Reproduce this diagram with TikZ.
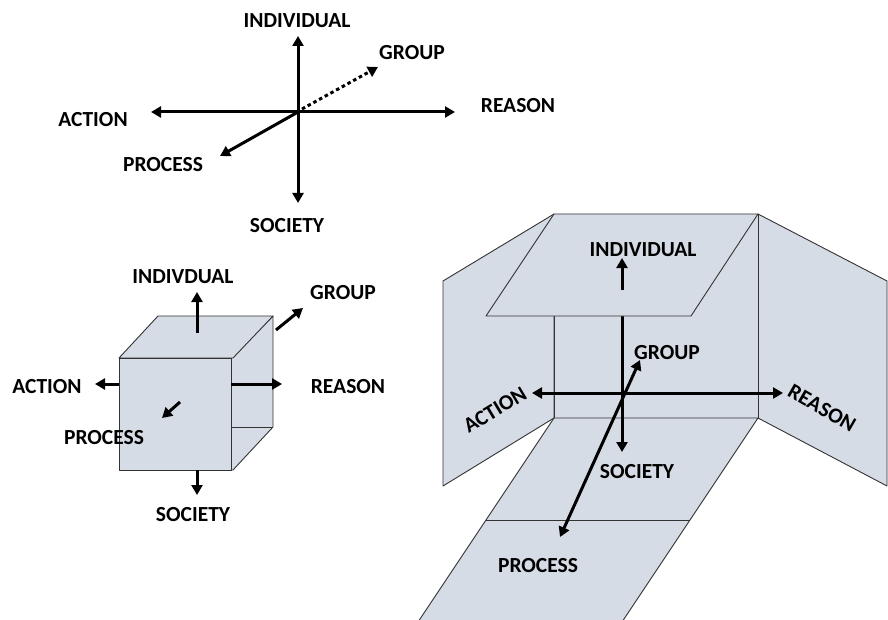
\documentclass[tikz,border=0pt]{standalone}
\usepackage{fontspec}
\setmainfont{Carlito}[BoldFont={Carlito Bold}]
\usetikzlibrary{arrows.meta}
\definecolor{panel}{HTML}{D6DCE5}
\definecolor{edge}{HTML}{333333}
\begin{document}
\begin{tikzpicture}[x=1pt,y=-1pt,
  lbl/.style={font=\fontsize{21.5}{24}\selectfont\bfseries, inner sep=0pt},
  ax/.style={line width=3pt, -{Triangle[length=10pt,width=11pt]}},
  axx/.style={line width=3pt, {Triangle[length=10pt,width=11pt]}-{Triangle[length=10pt,width=11pt]}},
  dotax/.style={line width=3pt, dash pattern=on 3.5pt off 3pt, -{Triangle[length=10pt,width=11pt]}},
  face/.style={fill=panel, draw=edge, line width=0.9pt, line join=round},
  edgeline/.style={draw=edge, line width=0.9pt}
]
\useasboundingbox (0,0) rectangle (888,620);

% ---------- top diagram ----------
\coordinate (t0) at (298,112);
\coordinate (tN) at (298,36);
\coordinate (tS) at (298,203);
\coordinate (tW) at (151,112);
\coordinate (tE) at (455,112);
\coordinate (tP) at (220,156);
\coordinate (tg0) at (302,109);
\coordinate (tG) at (378,67);
\draw[axx] (tS) -- (tN);
\draw[axx] (tW) -- (tE);
\draw[ax] (t0) -- (tP);
\draw[dotax] (tg0) -- (tG);
\node[lbl] (tIndividual) at (297,21) {INDIVIDUAL};
\node[lbl] (tGroup) at (412,53) {GROUP};
\node[lbl] (tReason) at (518,106) {REASON};
\node[lbl] (tAction) at (93,120) {ACTION};
\node[lbl] (tProcess) at (163,165) {PROCESS};
\node[lbl] (tSociety) at (287,226) {SOCIETY};

% ---------- cube ----------
\path[face] (231,358) -- (273,316) -- (273,427) -- (233,470) -- (231,470) -- cycle;
\draw[edgeline] (231,427) -- (273,427);
\path[face] (119,358) -- (158,316) -- (273,316) -- (233,358) -- cycle;
\path[face] (119,358) rectangle (231,470);
\coordinate (cU0) at (197,333); \coordinate (cU) at (197,292);
\coordinate (cG0) at (276,330); \coordinate (cG) at (303,308);
\coordinate (cA0) at (119,384); \coordinate (cA) at (95,384);
\coordinate (cR0) at (231,384); \coordinate (cR) at (282,384);
\coordinate (cP0) at (180,402); \coordinate (cP) at (162,418);
\coordinate (cS0) at (197,470); \coordinate (cS) at (197,495);
\draw[ax] (cU0) -- (cU);
\draw[ax] (cG0) -- (cG);
\draw[ax] (cA0) -- (cA);
\draw[ax] (cR0) -- (cR);
\draw[ax] (cP0) -- (cP);
\draw[ax] (cS0) -- (cS);
\node[lbl] (cIndividual) at (183,277) {INDIVDUAL};
\node[lbl] (cGroup) at (343,293) {GROUP};
\node[lbl] (cAction) at (47,387) {ACTION};
\node[lbl] (cReason) at (348,387) {REASON};
\node[lbl] (cProcess) at (104,438) {PROCESS};
\node[lbl] (cSociety) at (193,515) {SOCIETY};

% ---------- room ----------
\path[face] (443,281) -- (554,214) -- (554,418) -- (443,486) -- cycle;
\path[face] (758,214) -- (887,281) -- (887,486) -- (758,418) -- cycle;
\path[face] (554,214) rectangle (758,418);
\path[face] (554,418) -- (758,418) -- (623.3,620) -- (622,625) -- (416,625) -- (419.3,620) -- cycle;
\draw[edgeline] (486,520) -- (690,520);
\coordinate (r0) at (622,393);
\coordinate (rTop) at (622,316);
\coordinate (rS) at (622,452);
\coordinate (rW) at (532,393);
\coordinate (rE) at (783,393);
\coordinate (rP) at (560,537);
\coordinate (rG) at (640,360);
\draw[ax] (rTop) -- (rS);
\draw[axx] (rW) -- (rE);
\draw[axx] (rP) -- (rG);
\path[face] (486,316) -- (691,316) -- (758,214) -- (554,214) -- cycle;
\coordinate (rU0) at (622,290);
\coordinate (rU) at (622,258);
\draw[ax] (rU0) -- (rU);
\node[lbl] (rIndividual) at (643,250) {INDIVIDUAL};
\node[lbl] (rGroup) at (667,353) {GROUP};
\node[lbl] (rSociety) at (637,472) {SOCIETY};
\node[lbl] (rProcess) at (538,566) {PROCESS};
\node[lbl, rotate=31] (rAction) at (495,410) {ACTION};
\node[lbl, rotate=-30] (rReason) at (822,408) {REASON};
\end{tikzpicture}
\end{document}
